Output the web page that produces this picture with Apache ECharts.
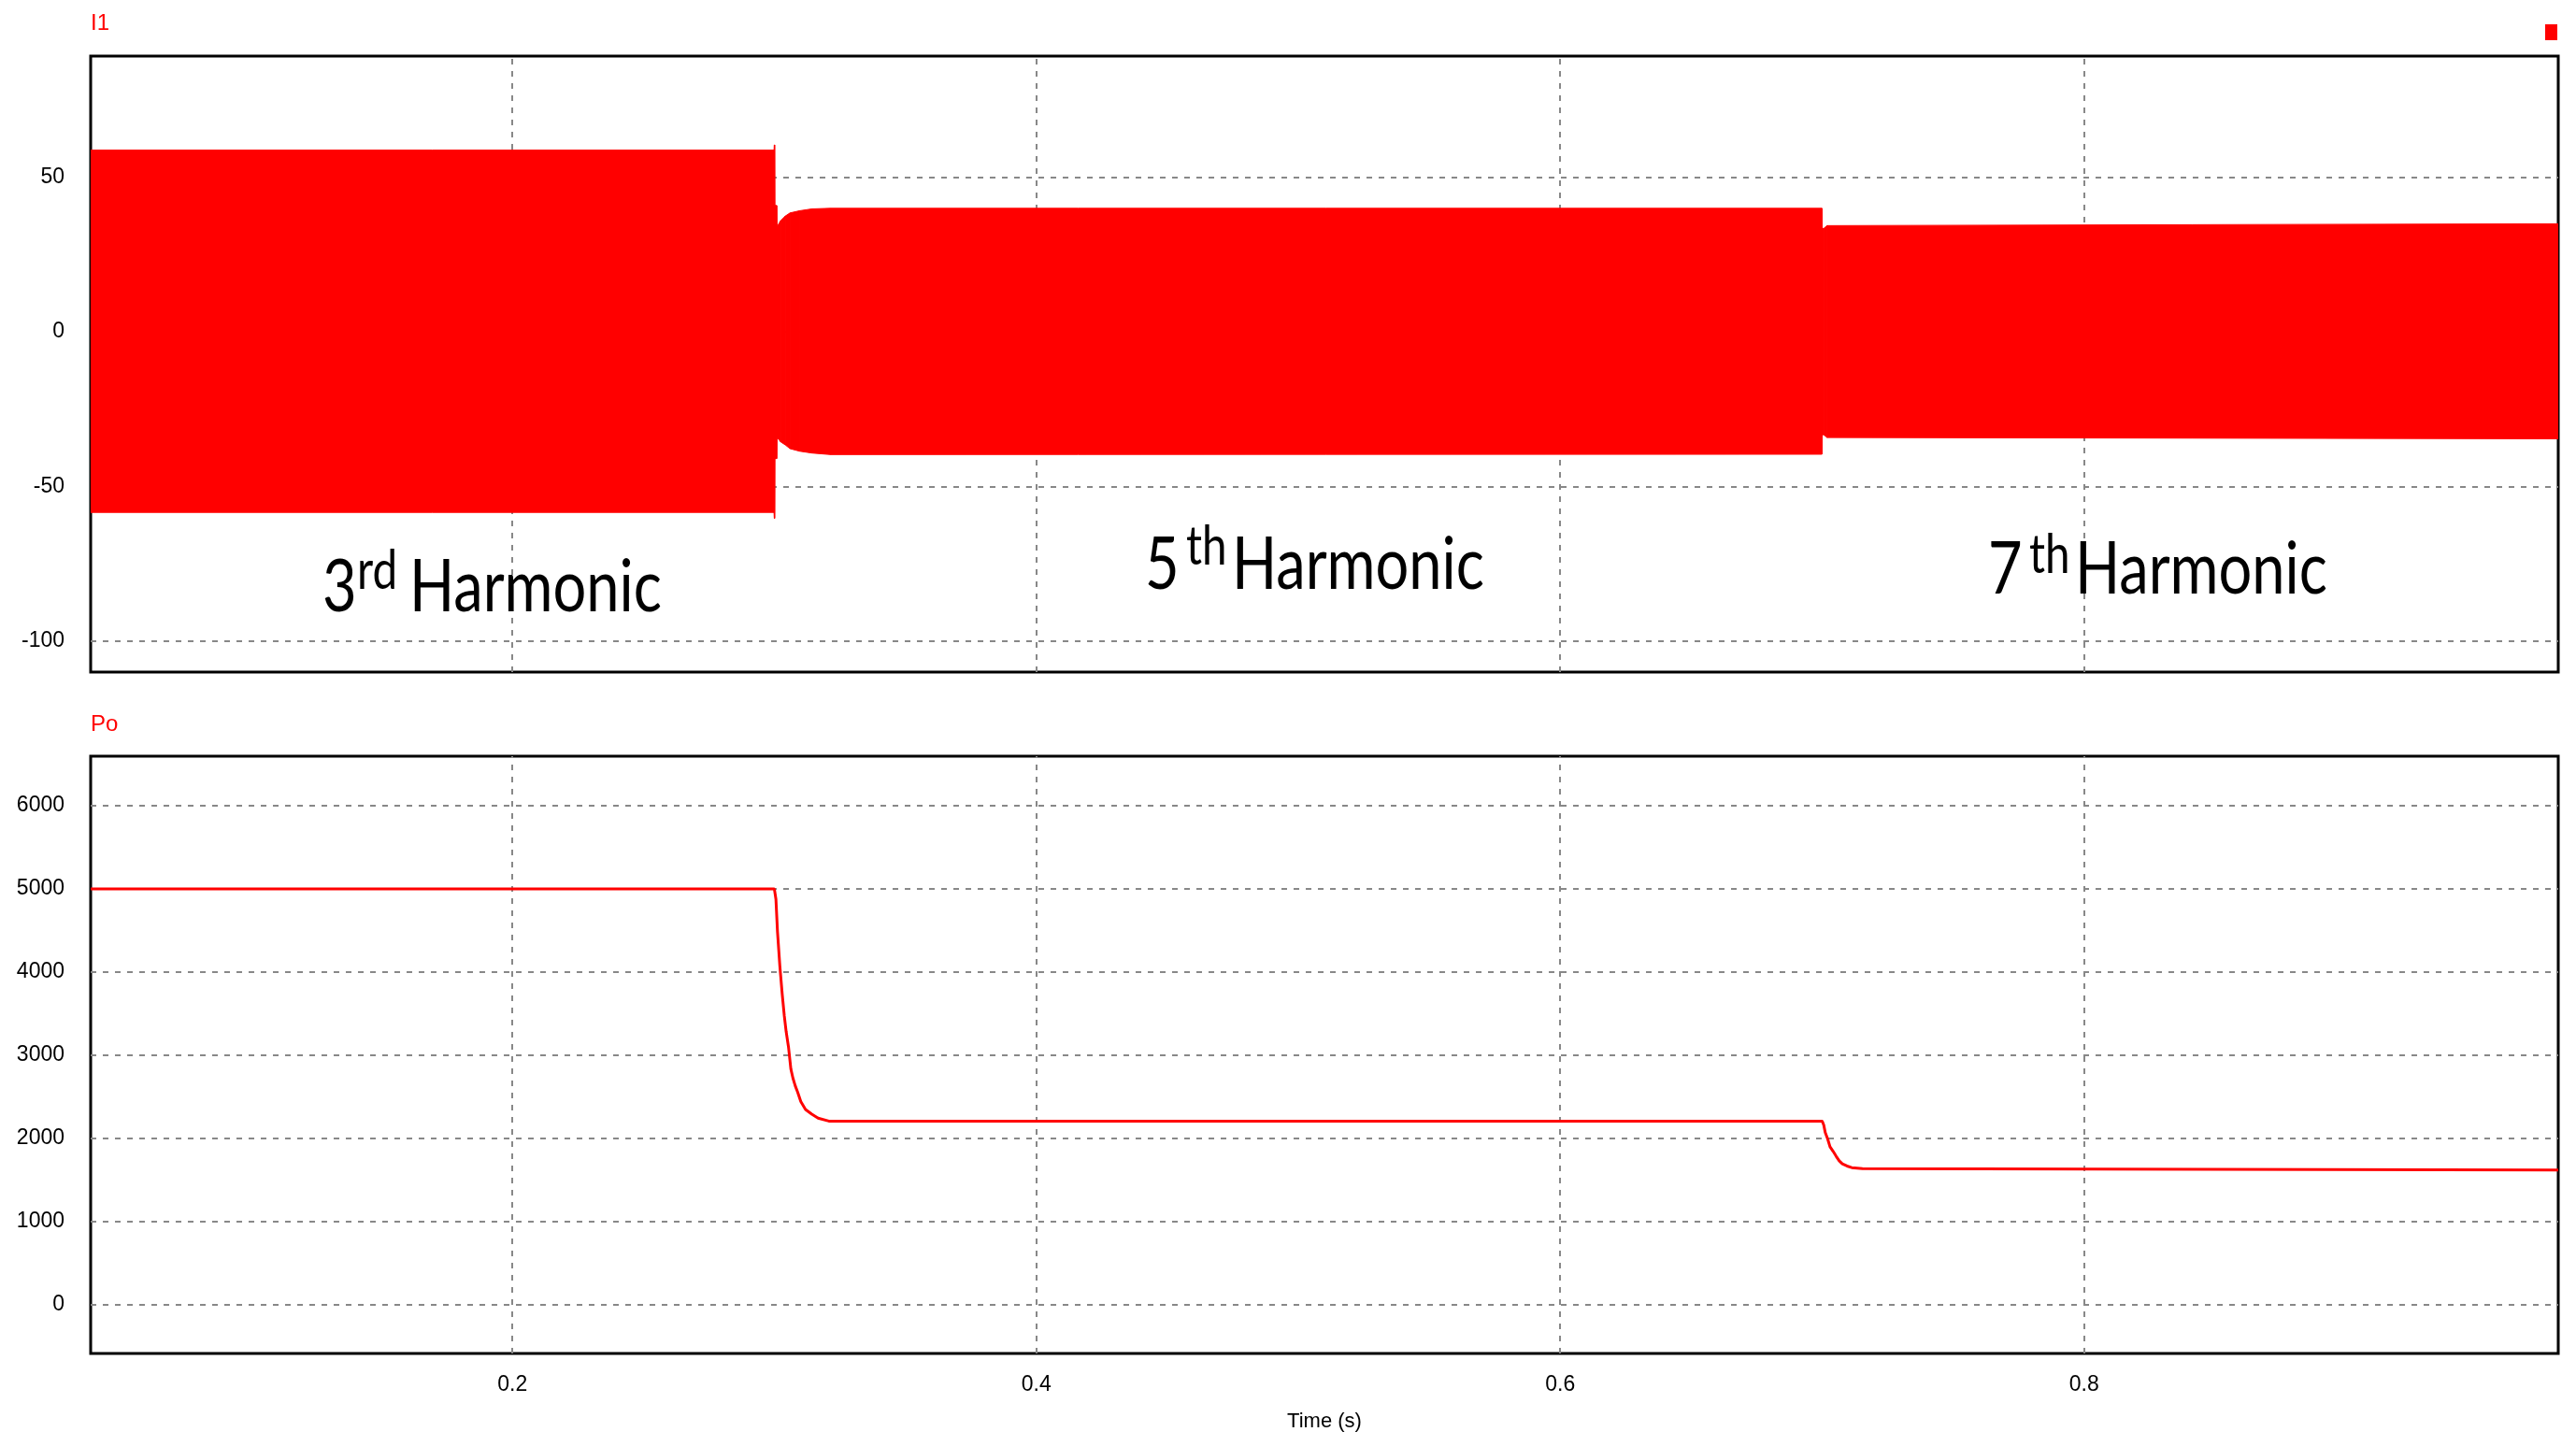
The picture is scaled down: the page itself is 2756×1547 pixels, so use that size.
<!DOCTYPE html>
<html>
<head>
<meta charset="utf-8">
<script src="https://cdn.jsdelivr.net/npm/echarts@6/dist/echarts.min.js"></script>
<style>
html,body{margin:0;padding:0;background:#fff;}
#chart{width:2756px;height:1547px;}
</style>
</head>
<body>
<div id="chart"></div>
<script>
// ---- data ----
const xTicks = [0.2, 0.4, 0.6, 0.8];
const i1Ticks = [-100, -50, 0, 50];
const poTicks = [0, 1000, 2000, 3000, 4000, 5000, 6000];

// I1 envelope (upper / lower bounds of the fast oscillation), time in s
const i1Time  = [0.039, 0.2999, 0.3000, 0.3001, 0.3002, 0.3009, 0.3010, 0.3024, 0.3042, 0.3060, 0.3096, 0.3143, 0.3214, 0.6999, 0.7000, 0.7006, 0.7019, 0.981];
const i1Upper = [58.7, 58.7, 60.4, 60.4, 40.8, 40.8, 33.9, 35.9, 37.4, 38.4, 39.1, 39.7, 39.9, 39.9, 33.4, 33.4, 34.3, 34.9];
const i1Lower = [-58.4, -58.4, -60.3, -60.3, -41.0, -41.0, -34.1, -35.6, -36.6, -37.8, -38.6, -39.2, -39.7, -39.6, -33.3, -33.3, -34.2, -34.6];

// Po output power
const poTime  = [0.039, 0.3000, 0.3006, 0.3012, 0.3021, 0.3030, 0.3038, 0.3045, 0.3054, 0.3063, 0.3071, 0.3080, 0.3089, 0.3101, 0.3119, 0.3143, 0.3167, 0.3208, 0.7000, 0.7006, 0.7012, 0.7021, 0.7030, 0.7042, 0.7053, 0.7065, 0.7077, 0.7095, 0.7113, 0.7154, 0.7160, 0.981];
const poValue = [5000, 5000, 4876, 4483, 4071, 3733, 3470, 3283, 3096, 2833, 2721, 2627, 2552, 2440, 2345, 2289, 2241, 2205, 2205, 2159, 2065, 1990, 1896, 1840, 1784, 1727, 1690, 1664, 1645, 1634, 1615, 1615];

const xMin = 0.039, xMax = 0.981;
const i1Min = -110, i1Max = 89.1;
const poMin = -592, poMax = 6597;

// ---- build ----
const i1Data = i1Time.map((t, i) => [t, i1Upper[i], i1Lower[i]]);
const poData = poTime.map((t, i) => [t, poValue[i]]);

const RED = '#ff0000';
const gridLine = { color: '#888888', width: 2, type: [6, 7] };
const labelFont = { fontFamily: 'Liberation Sans', fontSize: 23, color: '#000' };
const plainNum = v => String(v);

function gridMarks(yTicks) {
  return {
    silent: true, symbol: 'none', z: 1,
    label: { show: false },
    lineStyle: gridLine,
    emphasis: { disabled: true },
    data: xTicks.map(v => ({ xAxis: v })).concat(yTicks.map(v => ({ yAxis: v })))
  };
}

function bandItem(params, api) {
  const i = params.dataIndex;
  if (i >= i1Data.length - 1) return null;
  const a = i1Data[i], b = i1Data[i + 1];
  const pts = [api.coord([a[0], a[1]]), api.coord([b[0], b[1]]), api.coord([b[0], b[2]]), api.coord([a[0], a[2]])];
  return { type: 'polygon', shape: { points: pts }, style: { fill: RED, stroke: RED, lineWidth: 1 } };
}

const chart = echarts.init(document.getElementById('chart'), null, { renderer: 'canvas' });

const mainFs = 77, supFs = 58, sx = 0.82;
function ann(text, left, baseline, fs) {
  return {
    type: 'text', x: left, y: baseline - 0.36 * fs, scaleX: sx, z: 100,
    style: { text: text, x: 0, y: 0, fontFamily: 'Lato', fontSize: fs, fill: '#000',
             align: 'left', verticalAlign: 'middle', textAlign: 'left', textVerticalAlign: 'middle' }
  };
}

chart.setOption({
  animation: false,
  backgroundColor: '#fff',
  grid: [
    { left: 97, right: 19, top: 60, height: 659, show: true, borderColor: '#000', borderWidth: 3, backgroundColor: 'transparent', containLabel: false },
    { left: 97, right: 19, top: 809, height: 639, show: true, borderColor: '#000', borderWidth: 3, backgroundColor: 'transparent', containLabel: false }
  ],
  xAxis: [
    { type: 'value', gridIndex: 0, min: xMin, max: xMax,
      axisLine: { show: false }, axisTick: { show: false }, splitLine: { show: false },
      axisLabel: { show: false } },
    { type: 'value', gridIndex: 1, min: xMin, max: xMax,
      axisLine: { show: false }, axisTick: { show: false }, splitLine: { show: false },
      axisLabel: Object.assign({ customValues: xTicks, margin: 22, formatter: plainNum }, labelFont),
      name: 'Time (s)', nameLocation: 'middle', nameGap: 62,
      nameTextStyle: { fontFamily: 'Liberation Sans', fontSize: 22, color: '#000' } }
  ],
  yAxis: [
    { type: 'value', gridIndex: 0, min: i1Min, max: i1Max,
      axisLine: { show: false }, axisTick: { show: false }, splitLine: { show: false },
      axisLabel: Object.assign({ customValues: i1Ticks, margin: 28, formatter: plainNum }, labelFont) },
    { type: 'value', gridIndex: 1, min: poMin, max: poMax,
      axisLine: { show: false }, axisTick: { show: false }, splitLine: { show: false },
      axisLabel: Object.assign({ customValues: poTicks, margin: 28, formatter: plainNum }, labelFont) }
  ],
  series: [
    { name: 'I1', type: 'custom', xAxisIndex: 0, yAxisIndex: 0, data: i1Data,
      encode: { x: 0, y: [1, 2] }, renderItem: bandItem, silent: true, clip: true, z: 2,
      markLine: gridMarks(i1Ticks) },
    { name: 'Po', type: 'line', xAxisIndex: 1, yAxisIndex: 1, data: poData,
      symbol: 'none', silent: true, lineStyle: { color: RED, width: 3 }, z: 3,
      markLine: gridMarks(poTicks) }
  ],
  graphic: [
    { type: 'text', x: 97, y: 13, style: { text: 'I1', fontFamily: 'Liberation Sans', fontSize: 24, fill: RED } },
    { type: 'text', x: 97, y: 763, style: { text: 'Po', fontFamily: 'Liberation Sans', fontSize: 24, fill: RED } },
    { type: 'rect', shape: { x: 2723, y: 26, width: 13, height: 17 }, style: { fill: RED } },
    ann('3', 345, 657, mainFs), ann('rd', 382, 632, supFs), ann('Harmonic', 438, 657, mainFs),
    ann('5', 1225, 633, mainFs), ann('th', 1269, 606, supFs), ann('Harmonic', 1318, 633, mainFs),
    ann('7', 2127, 638, mainFs), ann('th', 2171, 615, supFs), ann('Harmonic', 2220, 638, mainFs)
  ]
});
</script>
</body>
</html>
